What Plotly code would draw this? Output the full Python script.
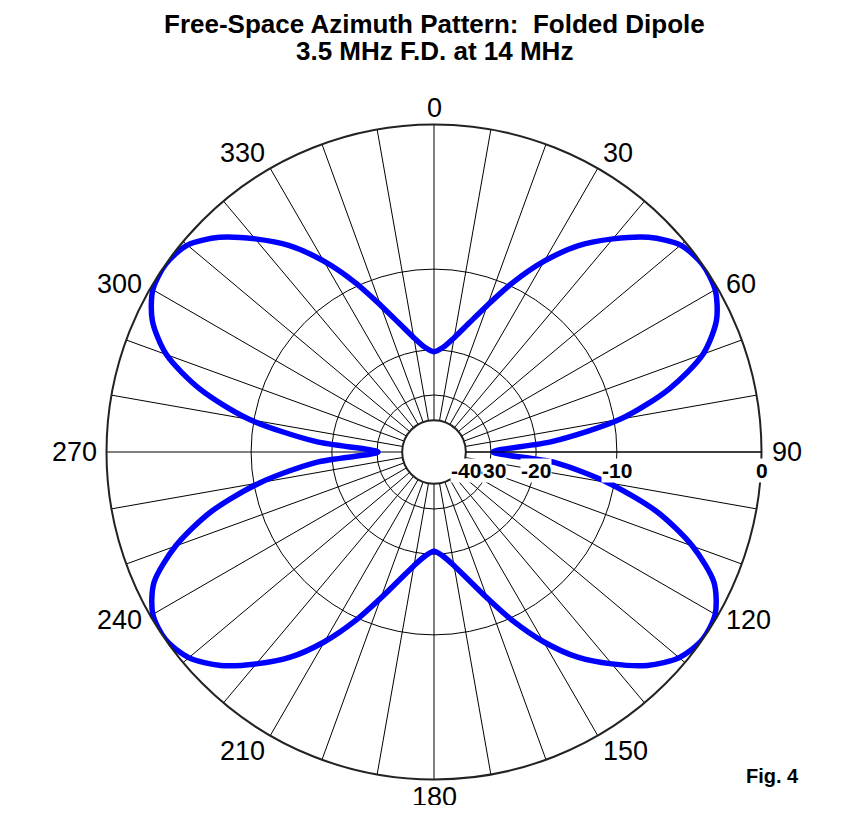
import math
import plotly.graph_objects as go

# ---- data ----
title_line1 = "Free-Space Azimuth Pattern:  Folded Dipole"
title_line2 = "3.5 MHz F.D. at 14 MHz"
fig_label = "Fig. 4"

azimuth_deg = list(range(0, 365, 5))
gain_db = [
    -20.3, -19.5, -17.8, -15.5, -12.7, -9.6, -6.8, -4.5, -2.8, -1.3,
    -0.3, 0.0, -0.15, -0.85, -2.3, -5.1, -9.4, -17.5, -29.4, -17.0,
    -10.6, -6.0, -3.0, -1.0, -0.15, 0.0, -0.4, -1.4, -2.9, -4.6,
    -6.9, -9.7, -12.8, -15.6, -17.9, -19.6, -20.5, -19.6, -17.9, -15.6,
    -12.8, -9.7, -6.9, -4.6, -2.9, -1.4, -0.4, 0.0, -0.15, -1.0,
    -3.0, -6.0, -10.6, -17.5, -30.3, -17.5, -9.6, -5.2, -2.4, -0.9,
    -0.15, 0.0, -0.3, -1.3, -2.8, -4.5, -6.8, -9.6, -12.7, -15.5,
    -17.8, -19.5, -20.3,
]

ring_db = [-40, -30, -20, -10, 0]
ring_labels = ["-40", "-30", "-20", "-10", "0"]
spoke_deg = list(range(0, 360, 10))
angle_label_deg = list(range(0, 360, 30))
angle_labels = [str(a) for a in angle_label_deg]


def arrl(db):
    # ARRL log-periodic radial scale: 0.89 per 2 dB
    return 0.89 ** (-db / 2.0)


r_vals = [arrl(g) for g in gain_db]

W, H = 838, 797  # + 8px body margin on each side = 854 x 813
OFF = 8
cx, cy, R = 434, 452, 327.5


def px_x(x):
    return (x - OFF) / W


def px_y(y):
    return 1 - (y - OFF) / H


fig = go.Figure()
fig.add_trace(go.Scatterpolar(
    r=r_vals, theta=azimuth_deg, mode="lines",
    line=dict(color="#0000FF", width=5.5, shape="spline", smoothing=0.8),
    hoverinfo="skip", showlegend=False,
))

label_font = dict(family="Liberation Sans, Arial, sans-serif", size=27, color="black")
title_font = dict(family="Liberation Sans, Arial, sans-serif", size=26, color="black")

annotations = [
    dict(text="<b>%s</b>" % title_line1, x=px_x(cx), y=px_y(24), xref="paper", yref="paper",
         showarrow=False, xanchor="center", yanchor="middle", font=title_font, borderpad=0),
    dict(text="<b>%s</b>" % title_line2, x=px_x(cx), y=px_y(51), xref="paper", yref="paper",
         showarrow=False, xanchor="center", yanchor="middle", font=title_font, borderpad=0),
    dict(text="<b>%s</b>" % fig_label, x=px_x(772), y=px_y(776), xref="paper", yref="paper",
         showarrow=False, xanchor="center", yanchor="middle",
         font=dict(family="Liberation Sans, Arial, sans-serif", size=20, color="black")),
]

# compass labels just outside the outer ring (placed from their angle)
pad, half_h = 9, 8
for a, txt in zip(angle_label_deg, angle_labels):
    s, c = math.sin(math.radians(a)), math.cos(math.radians(a))
    x = cx + (R + pad) * s
    y = cy - (R + pad) * c
    xa = "left" if s > 0.1 else ("right" if s < -0.1 else "center")
    if c > 0.6:
        y -= half_h
    elif c < -0.6:
        y += half_h
    annotations.append(dict(text=txt, x=px_x(x), y=px_y(y), xref="paper", yref="paper",
                            showarrow=False, xanchor=xa, yanchor="middle", font=label_font,
                            borderpad=0, height=26))

# dB ring labels below the 90-degree axis, on white boxes (as in the reference)
for db, txt in reversed(list(zip(ring_db, ring_labels))):
    x = cx + R * arrl(db)
    annotations.append(dict(text="<b>%s</b>" % txt, x=px_x(x), y=px_y(cy + 18), xref="paper", yref="paper",
                            showarrow=False, xanchor="center", yanchor="middle", bgcolor="white",
                            borderpad=0,
                            font=dict(family="Liberation Sans, Arial, sans-serif", size=21, color="black")))

fig.update_layout(
    width=W, height=H,
    margin=dict(l=0, r=0, t=0, b=0),
    paper_bgcolor="white",
    showlegend=False,
    polar=dict(
        domain=dict(x=[px_x(cx - R), px_x(cx + R)], y=[px_y(cy + R), px_y(cy - R)]),
        bgcolor="white",
        hole=arrl(ring_db[0]),
        angularaxis=dict(
            rotation=90, direction="clockwise",
            tickmode="array", tickvals=spoke_deg,
            showticklabels=False,
            showgrid=True, gridcolor="black", gridwidth=1,
            showline=True, linecolor="#222", linewidth=2,
            ticks="",
        ),
        radialaxis=dict(
            range=[arrl(ring_db[0]), 1],
            tickmode="array", tickvals=[arrl(d) for d in ring_db],
            showticklabels=False,
            angle=0,
            showgrid=True, gridcolor="black", gridwidth=1,
            showline=True, linecolor="black", linewidth=1,
            ticks="",
        ),
    ),
    annotations=annotations,
)

fig.write_html("out.html")
